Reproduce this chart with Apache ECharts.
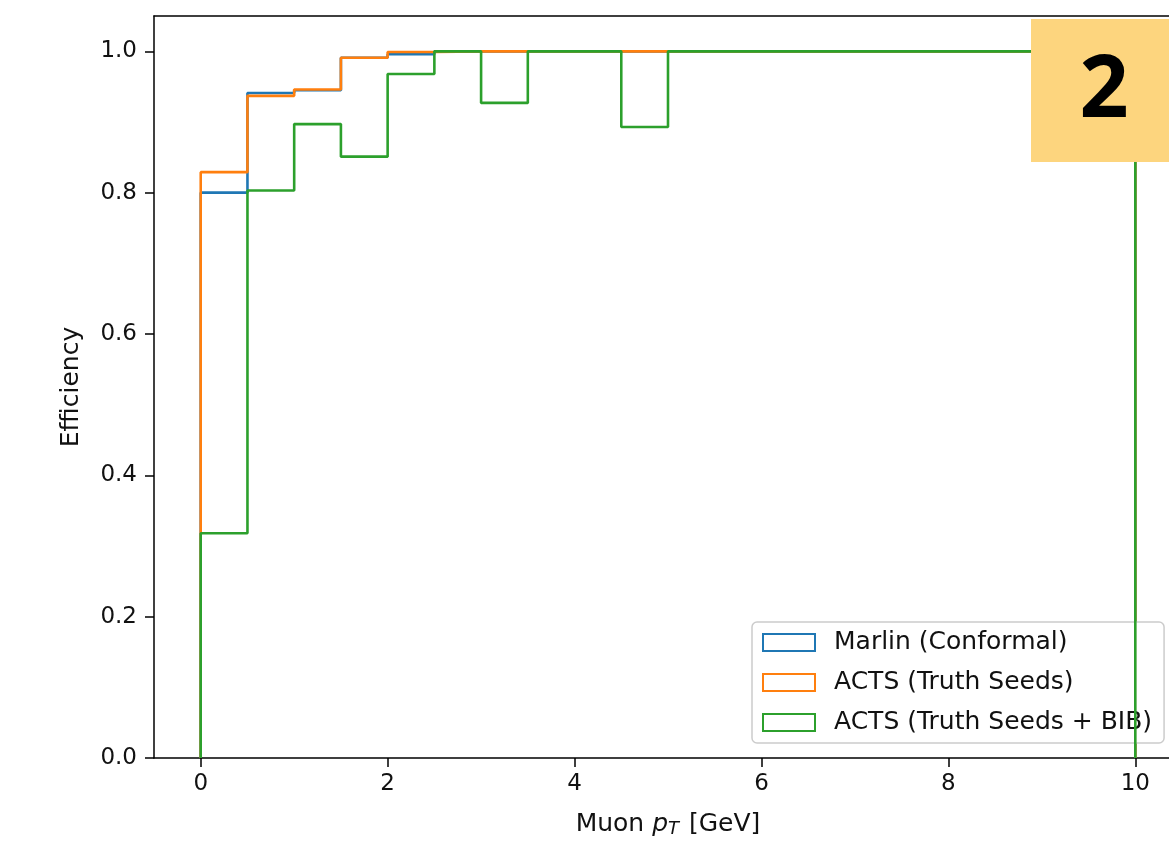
<!DOCTYPE html>
<html>
<head>
<meta charset="utf-8">
<script src="https://cdn.jsdelivr.net/npm/echarts@6/dist/echarts.min.js"></script>
<style>
  html, body { margin: 0; padding: 0; background: #fff; }
  #chart { width: 1169px; height: 842px; }
</style>
</head>
<body>
<div id="chart"></div>
<script>
// bin edges of the muon pT histogram (GeV)
var binEdges = [0, 0.5, 1, 1.5, 2, 2.5, 3, 3.5, 4, 4.5, 5, 5.5, 6, 6.5, 7, 7.5, 8, 8.5, 9, 9.5, 10];
// efficiency per bin
var marlin = [0.800, 0.941, 0.945, 0.991, 0.996, 1, 1, 1, 1, 1, 1, 1, 1, 1, 1, 1, 1, 1, 1, 1];
var actsTruth = [0.829, 0.937, 0.946, 0.991, 0.999, 1, 1, 1, 1, 1, 1, 1, 1, 1, 1, 1, 1, 1, 1, 1];
var actsBib = [0.318, 0.803, 0.897, 0.851, 0.968, 1, 0.927, 1, 1, 0.893, 1, 1, 1, 1, 1, 1, 1, 1, 1, 1];
var seriesNames = ["Marlin (Conformal)", "ACTS (Truth Seeds)", "ACTS (Truth Seeds + BIB)"];
var colors = ["#1f77b4", "#ff7f0e", "#2ca02c"];
var xTicks = [0, 2, 4, 6, 8, 10];
var yTicks = [0, 0.2, 0.4, 0.6, 0.8, 1.0];

// step outline like matplotlib histtype="step"
function stepOutline(vals) {
  var pts = [[binEdges[0], 0]];
  for (var i = 0; i < vals.length; i++) {
    pts.push([binEdges[i], vals[i]]);
    pts.push([binEdges[i + 1], vals[i]]);
  }
  pts.push([binEdges[binEdges.length - 1], 0]);
  return pts;
}

var font = "DejaVu Sans";
var allVals = [marlin, actsTruth, actsBib];

var chart = echarts.init(document.getElementById("chart"));
var option = {
  animation: false,
  backgroundColor: "#fff",
  grid: {
    left: 154,
    top: 16,
    height: 742,
    width: 1028, // right spine falls outside the picture
    outerBoundsMode: "none",
    containLabel: false,
  },
  legend: {
    orient: "vertical",
    left: 752,
    top: 622,
    padding: [8, 12, 8, 10],
    itemGap: 15,
    itemWidth: 52,
    itemHeight: 17,
    backgroundColor: "rgba(255,255,255,0.8)",
    borderColor: "#cccccc",
    borderWidth: 1.5,
    borderRadius: 5,
    textStyle: {
      fontFamily: font,
      fontSize: 25,
      color: "#111",
      padding: [0, 0, 0, 14],
    },
    data: seriesNames.map(function (n, i) {
      return {
        name: n,
        icon: "rect",
        itemStyle: { color: "#fff", borderColor: colors[i], borderWidth: 2 },
      };
    }),
  },
  xAxis: [
    {
      type: "value",
      min: -0.5,
      max: 10.5,
      name: "Muon {i|p}{s|T} [GeV]",
      nameLocation: "middle",
      nameGap: 52,
      nameTextStyle: {
        fontFamily: font,
        fontSize: 25,
        color: "#111",
        rich: {
          i: { fontFamily: font, fontSize: 25, fontStyle: "italic", color: "#111" },
          s: { fontFamily: font, fontSize: 18, fontStyle: "italic", color: "#111", padding: [10, 2, 0, 0] },
        },
      },
      splitLine: { show: false },
      axisLine: { onZero: false, lineStyle: { color: "#000", width: 1.5 } },
      axisTick: { customValues: xTicks, length: 9, lineStyle: { color: "#000", width: 1.5 } },
      axisLabel: {
        customValues: xTicks,
        margin: 15,
        fontFamily: font,
        fontSize: 23,
        color: "#111",
      },
    },
    {
      // top spine only
      type: "value",
      position: "top",
      min: -0.5,
      max: 10.5,
      splitLine: { show: false },
      axisLine: { show: true, onZero: false, lineStyle: { color: "#000", width: 1.5 } },
      axisTick: { show: false },
      axisLabel: { show: false },
    },
  ],
  yAxis: {
    type: "value",
    min: 0,
    max: 1.05,
    name: "Efficiency",
    nameLocation: "middle",
    nameGap: 70,
    nameTextStyle: { fontFamily: font, fontSize: 25, color: "#111" },
    splitLine: { show: false },
    axisLine: { show: true, onZero: false, lineStyle: { color: "#000", width: 1.5 } },
    axisTick: { show: true, customValues: yTicks, length: 9, lineStyle: { color: "#000", width: 1.5 } },
    axisLabel: {
      customValues: yTicks,
      margin: 17,
      fontFamily: font,
      fontSize: 23,
      color: "#111",
      formatter: function (v) { return v.toFixed(1); },
    },
  },
  series: allVals.map(function (vals, i) {
    return {
      name: seriesNames[i],
      type: "line",
      data: stepOutline(vals),
      showSymbol: false,
      symbol: "none",
      color: colors[i],
      lineStyle: { color: colors[i], width: 2.6 },
      z: 2 + i,
    };
  }),
  graphic: [
    {
      type: "rect",
      left: 1031,
      top: 19,
      shape: { width: 138, height: 143 },
      style: { fill: "#fdd57e" },
      z: 100,
    },
    {
      type: "text",
      x: 1104,
      y: 92,
      style: {
        text: "2",
        fontFamily: "Noto Sans",
        fontWeight: "bold",
        fontSize: 86,
        fill: "#000",
        align: "center",
        verticalAlign: "middle",
      },
      z: 101,
    },
  ],
};
chart.setOption(option);
</script>
</body>
</html>
